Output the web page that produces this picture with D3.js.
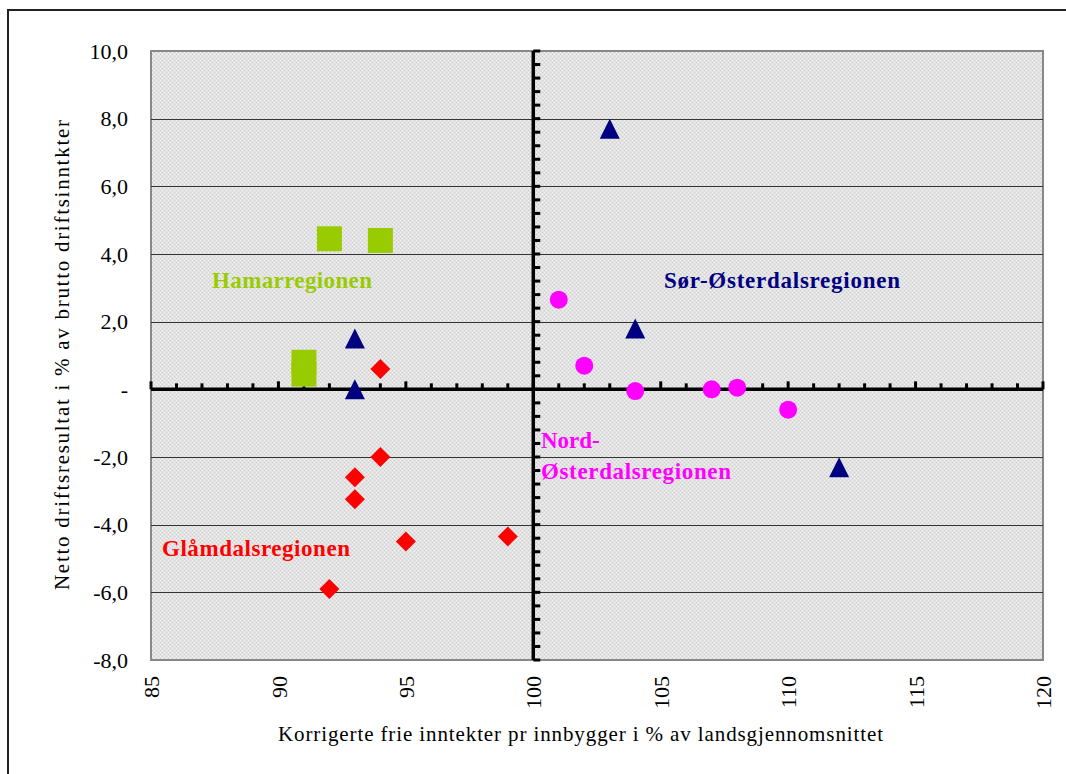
<!DOCTYPE html>
<html><head><meta charset="utf-8">
<script src="https://cdn.jsdelivr.net/npm/d3@7"></script>
<style>body{margin:0;background:#fff;}svg{display:block;}</style>
</head><body>
<svg id="c" width="1066" height="774"></svg>
<script>
const xTicks = [85, 90, 95, 100, 105, 110, 115, 120];
const yTicks = [10, 8, 6, 4, 2, 0, -2, -4, -6, -8];
const yTickLabels = ["10,0", "8,0", "6,0", "4,0", "2,0", "-", "-2,0", "-4,0", "-6,0", "-8,0"];

const hamarX = [92, 94, 91, 91];
const hamarY = [4.45, 4.4, 0.8, 0.45];
const sorX = [93, 93, 103, 104, 112];
const sorY = [1.5, 0.0, 7.7, 1.8, -2.3];
const nordX = [101, 102, 104, 107, 108, 110];
const nordY = [2.65, 0.7, -0.05, 0.0, 0.05, -0.6];
const glamX = [94, 94, 93, 93, 95, 99, 92];
const glamY = [0.6, -2.0, -2.6, -3.25, -4.5, -4.35, -5.9];

const labels = ["Hamarregionen", "Sør-Østerdalsregionen", "Nord-", "Østerdalsregionen", "Glåmdalsregionen"];
const xTitle = "Korrigerte frie inntekter pr innbygger i % av landsgjennomsnittet";
const yTitle = "Netto driftsresultat i % av brutto driftsinntkter";

const svg = d3.select("#c");
const L = 151, R = 1043, T = 51, B = 660;
const x = d3.scaleLinear().domain([85, 120]).range([L, R]);
const y = d3.scaleLinear().domain([-8, 10]).range([B, T]);
const serif = "'Liberation Serif','Times New Roman',serif";

// outer frame (top and left visible)
svg.append("path").attr("d", `M8,1000 L8,10 L1100,10`).attr("fill", "none").attr("stroke", "#222").attr("stroke-width", 2);

// pattern
const defs = svg.append("defs");
const pat = defs.append("pattern").attr("id", "dots").attr("width", 4).attr("height", 4).attr("patternUnits", "userSpaceOnUse");
pat.append("rect").attr("width", 4).attr("height", 4).attr("fill", "#e2e2e2");
pat.append("rect").attr("x", 0).attr("y", 0).attr("width", 1).attr("height", 1).attr("fill", "#f4f4f4");
pat.append("rect").attr("x", 2).attr("y", 2).attr("width", 1).attr("height", 1).attr("fill", "#f4f4f4");
pat.append("rect").attr("x", 2).attr("y", 0).attr("width", 1).attr("height", 1).attr("fill", "#cfcfcf");
pat.append("rect").attr("x", 0).attr("y", 2).attr("width", 1).attr("height", 1).attr("fill", "#cfcfcf");

svg.append("rect").attr("x", L).attr("y", T).attr("width", R - L).attr("height", B - T)
  .attr("fill", "url(#dots)").attr("stroke", "#888").attr("stroke-width", 2);

// gridlines
svg.append("g").selectAll("line").data(yTicks.filter(v => v !== 0 && v !== 10 && v !== -8)).join("line")
  .attr("x1", L).attr("x2", R).attr("y1", d => Math.round(y(d)) + 0.5).attr("y2", d => Math.round(y(d)) + 0.5)
  .attr("stroke", "#333").attr("stroke-width", 1);

// y tick labels
const yAx = d3.axisLeft(y).tickValues(yTicks).tickSize(0).tickPadding(0)
  .tickFormat((d, i) => yTickLabels[i]);
const gy = svg.append("g").attr("transform", `translate(128,0)`).call(yAx);
gy.select(".domain").remove();
gy.selectAll("text").attr("font-family", serif).attr("font-size", 22).attr("fill", "#000");

// x tick labels rotated
const xAx = d3.axisBottom(x).tickValues(xTicks).tickSize(0).tickFormat(d3.format("d"));
const gx = svg.append("g").attr("transform", `translate(0,${B})`).call(xAx);
gx.select(".domain").remove();
gx.selectAll("text").attr("font-family", serif).attr("font-size", 22).attr("fill", "#000")
  .attr("text-anchor", "end").attr("transform", "rotate(-90)")
  .attr("x", -16).attr("y", 0).attr("dy", "0.35em");

// central axes with minor ticks
const axG = svg.append("g");
const x0 = x(100), y0 = y(0);
const xMinor = d3.range(85, 121, 1);
axG.selectAll(".xt").data(xMinor).join("line")
  .attr("x1", d => x(d)).attr("x2", d => x(d))
  .attr("y1", y0).attr("y2", d => y0 - (d % 5 === 0 ? 8 : 6))
  .attr("stroke", "#000").attr("stroke-width", 3);
const yMinor = d3.range(-8, 10.01, 0.4);
axG.selectAll(".yt").data(yMinor).join("line")
  .attr("y1", d => y(d)).attr("y2", d => y(d))
  .attr("x1", x0).attr("x2", x0 + 7)
  .attr("stroke", "#000").attr("stroke-width", 3);
axG.append("line").attr("x1", L).attr("x2", R).attr("y1", y0).attr("y2", y0).attr("stroke", "#000").attr("stroke-width", 3.5);
axG.append("line").attr("x1", x0).attr("x2", x0).attr("y1", T).attr("y2", B).attr("stroke", "#000").attr("stroke-width", 3.5);

// markers
const pts = svg.append("g");
pts.selectAll(".sq").data(d3.zip(hamarX, hamarY)).join("rect")
  .attr("x", d => x(d[0]) - 12.5).attr("y", d => y(d[1]) - 12.5).attr("width", 25).attr("height", 25)
  .attr("fill", "#99cc00");
pts.selectAll(".tri").data(d3.zip(sorX, sorY)).join("path")
  .attr("d", d => { const cx = x(d[0]), cy = y(d[1]); return `M${cx},${cy - 10}L${cx + 10},${cy + 10}L${cx - 10},${cy + 10}Z`; })
  .attr("fill", "#000080");
pts.selectAll(".ci").data(d3.zip(nordX, nordY)).join("circle")
  .attr("cx", d => x(d[0])).attr("cy", d => y(d[1])).attr("r", 9)
  .attr("fill", "#ff00ff");
pts.selectAll(".di").data(d3.zip(glamX, glamY)).join("path")
  .attr("d", d => { const cx = x(d[0]), cy = y(d[1]); return `M${cx},${cy - 10}L${cx + 10},${cy}L${cx},${cy + 10}L${cx - 10},${cy}Z`; })
  .attr("fill", "#ff0000");

// region labels
const lab = svg.append("g").attr("font-family", serif).attr("font-weight", "bold").attr("font-size", 23);
const lbl = (t, px, py, col, w) => {
  const e = lab.append("text").attr("x", px).attr("y", py).attr("fill", col).text(t);
  if (w) e.attr("textLength", w).attr("lengthAdjust", "spacing");
};
lbl(labels[0], 212, 288, "#99cc00", 160);
lbl(labels[1], 664, 288, "#000080", 236);
lbl(labels[2], 541, 448, "#ff00ff", 0);
lbl(labels[3], 541, 479, "#ff00ff", 190);
lbl(labels[4], 162, 556, "#ff0000", 188);

// axis titles
svg.append("text").attr("x", 278).attr("y", 741)
  .attr("textLength", 605).attr("lengthAdjust", "spacing")
  .attr("font-family", serif).attr("font-size", 21).text(xTitle);
svg.append("text").attr("transform", "translate(69,590) rotate(-90)")
  .attr("textLength", 470).attr("lengthAdjust", "spacing")
  .attr("font-family", serif).attr("font-size", 21).text(yTitle);
</script>
</body></html>
